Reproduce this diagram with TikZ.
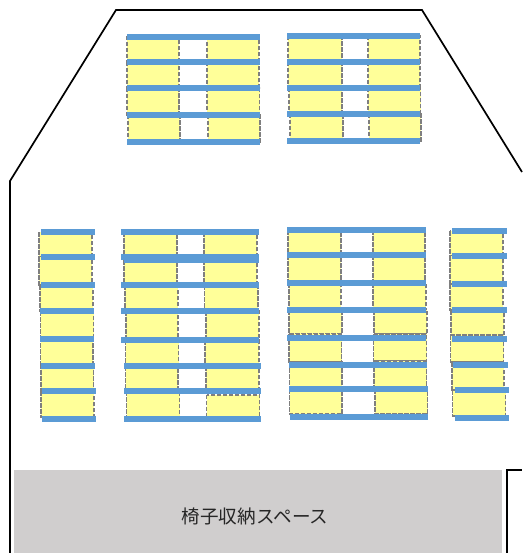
\documentclass[tikz,border=0pt]{standalone}
\usepackage{fontspec}
\newfontfamily\cjk{Noto Sans CJK JP}
\definecolor{barblue}{HTML}{5B9BD5}
\definecolor{storagegray}{HTML}{D0CECE}
\definecolor{deskyellow}{HTML}{FFFF99}
\definecolor{deskedge}{HTML}{7F7F7F}
\tikzset{
	desk/.style={draw=deskedge, fill=deskyellow, line width=1.8pt, dash pattern=on 4.5pt off 1.5pt},
	bar/.style={draw=none, fill=barblue},
	wall/.style={draw=black, line width=1.7pt},
	storage/.style={draw=none, fill=storagegray},
}
\begin{document}
\begin{tikzpicture}[x=1pt,y=-1pt]
		\useasboundingbox (0,0) rectangle (522,553);
		\fill[white] (0,0) rectangle (522,553);

		% walls
		\draw[wall] (10,553) -- (10,181) -- (116,10) -- (422,10) -- (522,172);
		\draw[wall] (507,553) -- (507,470) -- (522,470);

		% storage
		\fill[storage] (14,470) rectangle (502,553);
		\node[font=\cjk, text=black!85] (storagelabel) at (255,516) {\fontsize{18.6pt}{20pt}\selectfont 椅子収納スペース};

		% desks: left, right, top, bottom
		\foreach \xa/\xb/\ya/\yb in {
			126.7/179/36/62, 126.7/179/62/88, 127/179/88/115, 128/180/115/142,
			206.7/259/36/62, 206.7/259/62/88, 207/259.5/88/115, 208/260/115/142,
			288/341.7/36/62, 288/341.7/62/88, 289/342/88/114, 290/343/114/141,
			367.7/420/36/62, 367.7/420/62/88, 368/420.5/88/114, 369/421/114/141,
			39.3/92.3/232/257, 39/92/257/285, 40/93/285/311, 40.5/93.5/311/337, 40.5/93/337/364, 41/93.5/364/391, 41/94/391/417,
			124.3/177/232/257, 124.3/177/260/285, 125/178/285/311, 126/178/311/340, 125.5/178.5/340/366, 125.5/178/366/391, 126.5/179.5/391/418,
			204/257.3/232/257, 204/257.3/260/285, 204.5/258/285/311, 206/259/311/340, 205/259/340/366, 206/259/366/391, 206.5/259.5/394.7/418,
			288/340.7/230/255, 288/340.7/255/283, 289/341/283/310, 289/341.7/310/334, 289/341.5/334/362, 289.5/342/362/389, 289.5/342/389/414,
			372.7/425.3/230/255, 372.7/425.3/255/283, 373/426/283/310, 374/427/310/334, 373.5/426.5/334/361, 374/426.5/361/389, 375/427.5/389/414,
			450/503.3/231/256, 450/503.3/256/284, 450/503.3/284/310, 451/504/310/335, 450.5/503.5/335/362, 452/504/362/390, 452.5/505.5/390/416%
		}{
			\draw[desk] (\xa,\ya) rectangle (\xb,\yb);
		}

		% bars: left, right, middle y
		\foreach \xa/\xb/\ym in {
			127/260/36.7, 127/260/62.3, 127/260/88.3, 127/260/115, 127/260/141.7,
			287/420/36.5, 287/420/62, 287/420/88.5, 287/420/114, 287/420/141,
			41/95/231.7, 41/95/257, 41/95/284.7, 40/94/311, 40/94/339, 41/95/366, 42/96/390.7, 42/96/419,
			121.3/259/231.5, 121.3/259/257, 124/259/260, 121.3/259/285, 121.3/259/311, 121.3/259/339.7, 123.7/261/366, 123.7/261/391, 123.7/261/419,
			287.3/425.7/230, 287.3/425.7/255.3, 287.3/425.7/283.3, 287.3/425.7/309.7, 287.3/425.7/337.7, 288.7/427/364.7, 289.3/427.5/389.3, 289.5/427.5/417.3,
			451.7/506.7/231, 451.7/506.7/256.3, 451.7/506.7/283.7, 451.7/506.7/310.3, 451.7/506.7/338.7, 452.7/507.5/365.3, 454.7/509/390, 454.7/509/418%
		}{
			\fill[bar] (\xa,\ym-3) rectangle (\xb,\ym+3);
		}
\end{tikzpicture}
\end{document}
